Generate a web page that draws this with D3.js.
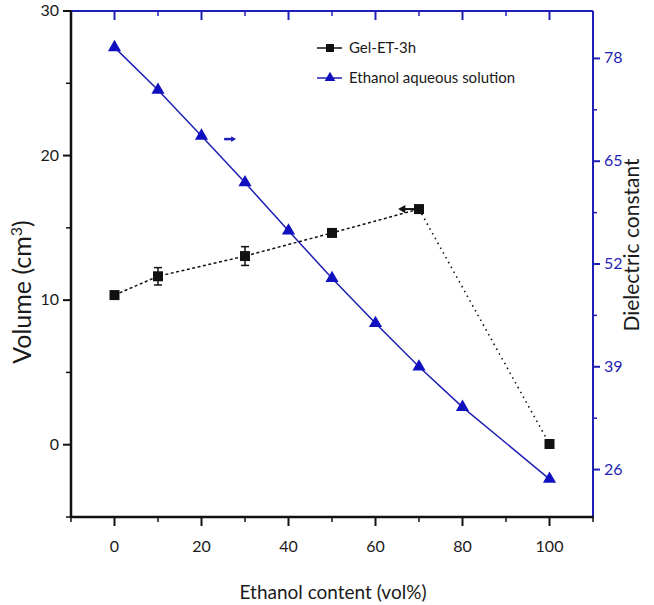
<!DOCTYPE html>
<html>
<head>
<meta charset="utf-8">
<script src="https://cdn.jsdelivr.net/npm/d3@7"></script>
<style>
  body { margin: 0; background: #fff; }
  svg text { font-family: Lato, "Open Sans", sans-serif; }
</style>
</head>
<body>
<svg id="chart" width="654" height="605"></svg>
<script>
// data
let ethanol = [0, 10, 30, 50, 70, 100]
let gelVolume = [10.35, 11.65, 13.05, 14.65, 16.3, 0.05]
let gelErr = [0, 0.6, 0.65, 0, 0, 0]
let solEthanol = [0, 10, 20, 30, 40, 50, 60, 70, 80, 100]
let dielectric = [79.4, 74.0, 68.2, 62.3, 56.2, 50.2, 44.5, 39.0, 33.9, 24.8]
let xTicks = [0, 20, 40, 60, 80, 100]
let leftTicks = [0, 10, 20, 30]
let rightTicks = [26, 39, 52, 65, 78]

let blue = "#1f1fb4"
let svg = d3.select("#chart")

let x = d3.scaleLinear().domain([-10, 110]).range([71, 593])
let yL = d3.scaleLinear().domain([-5, 30]).range([517, 11])
let yR = d3.scaleLinear().domain([20, 84]).range([517, 11])

// tick marks
let xMinor = d3.range(-10, 111, 10).filter(d => !xTicks.includes(d))
let g = svg.append("g")
// bottom ticks (outward)
g.selectAll(".bt").data(xTicks).enter().append("line")
    .attr("x1", d => x(d)).attr("x2", d => x(d)).attr("y1", 517).attr("y2", 526)
    .attr("stroke", "#111").attr("stroke-width", 2)
g.selectAll(".bm").data(xMinor).enter().append("line")
    .attr("x1", d => x(d)).attr("x2", d => x(d)).attr("y1", 517).attr("y2", 522)
    .attr("stroke", "#111").attr("stroke-width", 1.5)
// top ticks (inward, blue)
g.selectAll(".tt").data(xTicks).enter().append("line")
    .attr("x1", d => x(d)).attr("x2", d => x(d)).attr("y1", 11).attr("y2", 20)
    .attr("stroke", blue).attr("stroke-width", 2)
g.selectAll(".tm").data(xMinor.filter(d => d > -10 && d < 110)).enter().append("line")
    .attr("x1", d => x(d)).attr("x2", d => x(d)).attr("y1", 11).attr("y2", 16)
    .attr("stroke", blue).attr("stroke-width", 1.5)
// left ticks
g.selectAll(".lt").data(leftTicks).enter().append("line")
    .attr("x1", 63).attr("x2", 71).attr("y1", d => yL(d)).attr("y2", d => yL(d))
    .attr("stroke", "#111").attr("stroke-width", 2)
g.selectAll(".lm").data([-5, 5, 15, 25]).enter().append("line")
    .attr("x1", 66).attr("x2", 71).attr("y1", d => yL(d)).attr("y2", d => yL(d))
    .attr("stroke", "#111").attr("stroke-width", 1.5)
// right ticks
g.selectAll(".rt").data(rightTicks).enter().append("line")
    .attr("x1", 593).attr("x2", 600).attr("y1", d => yR(d)).attr("y2", d => yR(d))
    .attr("stroke", blue).attr("stroke-width", 2)
g.selectAll(".rm").data([32.5, 45.5, 58.5, 71.5]).enter().append("line")
    .attr("x1", 593).attr("x2", 597).attr("y1", d => yR(d)).attr("y2", d => yR(d))
    .attr("stroke", blue).attr("stroke-width", 1.5)

// frame
svg.append("line").attr("x1", 71).attr("x2", 593).attr("y1", 11).attr("y2", 11).attr("stroke", blue).attr("stroke-width", 2)
svg.append("line").attr("x1", 593).attr("x2", 593).attr("y1", 11).attr("y2", 518).attr("stroke", blue).attr("stroke-width", 2)
svg.append("line").attr("x1", 71).attr("x2", 71).attr("y1", 11).attr("y2", 518).attr("stroke", "#111").attr("stroke-width", 2.5)
svg.append("line").attr("x1", 70).attr("x2", 594).attr("y1", 517).attr("y2", 517).attr("stroke", "#111").attr("stroke-width", 2.5)

// tick labels
svg.selectAll(".xl").data(xTicks).enter().append("text")
    .attr("x", d => x(d)).attr("y", 552).attr("text-anchor", "middle")
    .style("font-size", "16px").attr("fill", "#1a1a1a").text(d => d)
svg.selectAll(".ll").data(leftTicks).enter().append("text")
    .attr("x", 59).attr("y", d => yL(d) + 5).attr("text-anchor", "end")
    .style("font-size", "16px").attr("fill", "#1a1a1a").text(d => d)
svg.selectAll(".rl").data(rightTicks).enter().append("text")
    .attr("x", 604).attr("y", d => yR(d) + 5).attr("text-anchor", "start")
    .style("font-size", "16px").attr("fill", blue).text(d => d)

// axis titles
svg.append("text").attr("x", 333).attr("y", 599).attr("text-anchor", "middle")
    .style("font-size", "19px").attr("fill", "#1a1a1a").text("Ethanol content (vol%)")
let yt = svg.append("text").attr("transform", "translate(31,292) rotate(-90)")
    .attr("text-anchor", "middle").style("font-size", "25px").attr("fill", "#1a1a1a")
yt.append("tspan").text("Volume (cm")
yt.append("tspan").attr("baseline-shift", "super").style("font-size", "16px").text("3")
yt.append("tspan").text(")")
svg.append("text").attr("transform", "translate(639,245) rotate(-90)")
    .attr("text-anchor", "middle").style("font-size", "21px").attr("fill", "#1a1a1a")
    .text("Dielectric constant")

// ethanol aqueous solution (right axis)
let solLine = d3.line().x((d, i) => x(solEthanol[i])).y(d => yR(d))
svg.append("path").datum(dielectric).attr("d", solLine)
    .attr("fill", "none").attr("stroke", blue).attr("stroke-width", 1.5)
let tri = d3.symbol().type(d3.symbolTriangle).size(75)
svg.selectAll(".tri").data(dielectric).enter().append("path")
    .attr("d", tri)
    .attr("transform", (d, i) => `translate(${x(solEthanol[i])},${yR(d)})`)
    .attr("fill", "#1010c0")

// Gel-ET-3h (left axis)
let gelLine = d3.line().x((d, i) => x(ethanol[i])).y(d => yL(d))
svg.append("path").datum(gelVolume.slice(0, 5)).attr("d", gelLine)
    .attr("fill", "none").attr("stroke", "#111").attr("stroke-width", 1.5)
    .attr("stroke-dasharray", "3,2.5")
svg.append("path")
    .attr("d", d3.line()([[x(ethanol[4]), yL(gelVolume[4])], [x(ethanol[5]), yL(gelVolume[5])]]))
    .attr("fill", "none").attr("stroke", "#111").attr("stroke-width", 1.6)
    .attr("stroke-dasharray", "1.5,4")

// error bars
gelVolume.forEach(function (v, i) {
    if (gelErr[i] == 0) return
    let cx = x(ethanol[i])
    let top = yL(v + gelErr[i]), bot = yL(v - gelErr[i])
    svg.append("line").attr("x1", cx).attr("x2", cx).attr("y1", top).attr("y2", bot).attr("stroke", "#111").attr("stroke-width", 1.5)
    svg.append("line").attr("x1", cx - 4).attr("x2", cx + 4).attr("y1", top).attr("y2", top).attr("stroke", "#111").attr("stroke-width", 1.5)
    svg.append("line").attr("x1", cx - 4).attr("x2", cx + 4).attr("y1", bot).attr("y2", bot).attr("stroke", "#111").attr("stroke-width", 1.5)
})
svg.selectAll(".sq").data(gelVolume).enter().append("rect")
    .attr("x", (d, i) => x(ethanol[i]) - 5).attr("y", d => yL(d) - 5)
    .attr("width", 10).attr("height", 10).attr("fill", "#111")

// arrows pointing to the axes
svg.append("line").attr("x1", x(70)).attr("x2", x(66.5)).attr("y1", yL(16.3)).attr("y2", yL(16.3))
    .attr("stroke", "#111").attr("stroke-width", 2)
svg.append("path").attr("d", d3.symbol().type(d3.symbolTriangle).size(30))
    .attr("transform", `translate(${x(66.3)},${yL(16.3)}) rotate(-90)`).attr("fill", "#111")
svg.append("line").attr("x1", x(25.2)).attr("x2", x(27)).attr("y1", yR(67.8)).attr("y2", yR(67.8))
    .attr("stroke", blue).attr("stroke-width", 2.5)
svg.append("path").attr("d", d3.symbol().type(d3.symbolTriangle).size(14))
    .attr("transform", `translate(${x(27.2)},${yR(67.8)}) rotate(90)`).attr("fill", blue)

// legend
let legend = [["Gel-ET-3h", "#111", "sq"], ["Ethanol aqueous solution", blue, "tri"]]
legend.forEach(function (l, i) {
    let ly = 48 + i * 30
    svg.append("line").attr("x1", 317).attr("x2", 342).attr("y1", ly).attr("y2", ly)
        .attr("stroke", l[1]).attr("stroke-width", 1.5)
    if (l[2] == "sq") {
        svg.append("rect").attr("x", 326).attr("y", ly - 4).attr("width", 8).attr("height", 8).attr("fill", "#111")
    } else {
        svg.append("path").attr("d", d3.symbol().type(d3.symbolTriangle).size(50))
            .attr("transform", `translate(330,${ly})`).attr("fill", "#1010c0")
    }
    svg.append("text").attr("x", 349).attr("y", ly + 5).style("font-size", "15px")
        .attr("fill", "#1a1a1a").text(l[0])
})
</script>
</body>
</html>
